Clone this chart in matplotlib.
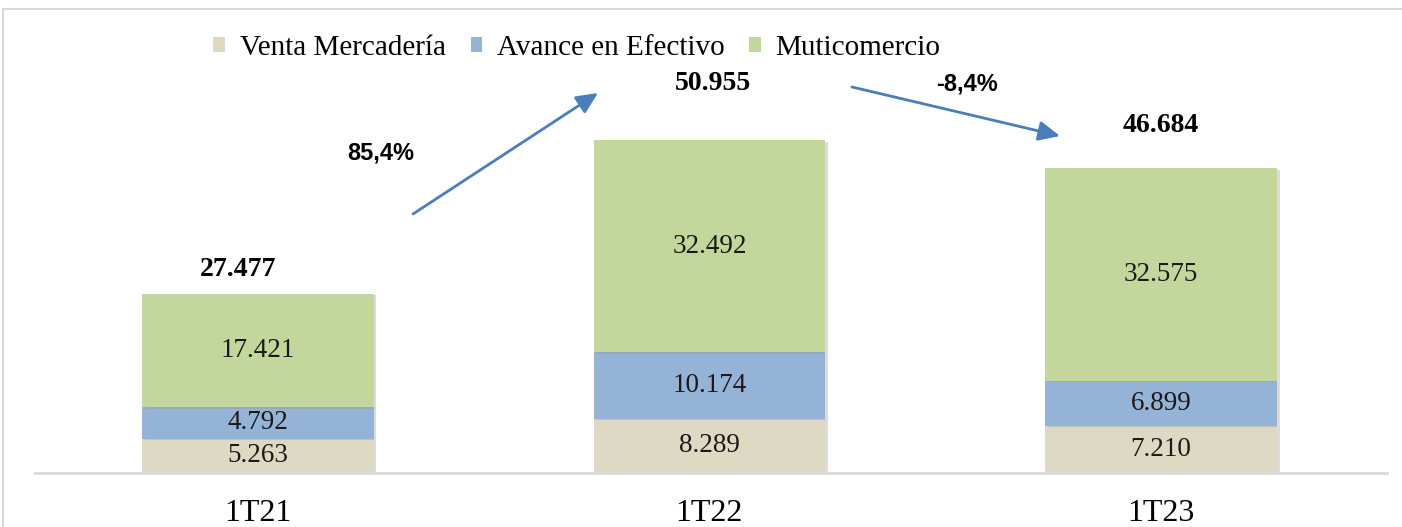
import numpy as np
import matplotlib
matplotlib.use('Agg')
import matplotlib.pyplot as plt
import matplotlib.patheffects as pe
from matplotlib.patches import Rectangle

# datos
periodos = ['1T21', '1T22', '1T23']
venta_mercaderia = [5263, 8289, 7210]
avance_efectivo = [4792, 10174, 6899]
multicomercio = [17421, 32492, 32575]
totales = [27477, 50955, 46684]
series = ['Venta Mercadería', 'Avance en Efectivo', 'Muticomercio']
colores = ['#DDD9C3', '#95B3D7', '#C3D69B']

def fmt(v):
    return f'{v:,}'.replace(',', '.')

fig = plt.figure(figsize=(14.02, 5.27), dpi=100)
ax = fig.add_axes([35/1402, 54/527, (1387-35)/1402, (517-54)/527])

x = np.arange(len(periodos))
capas = [venta_mercaderia, avance_efectivo, multicomercio]
base = np.zeros(len(periodos))
sombra = [pe.SimplePatchShadow(offset=(2, -1), shadow_rgbFace='#999999', alpha=0.35), pe.Normal()]
for nombre, vals, col in zip(series, capas, colores):
    barras = ax.bar(x, vals, width=0.513, bottom=base, color=col, label=nombre, zorder=2)
    for b in barras:
        b.set_path_effects(sombra)
    for xi, b0, v in zip(x, base, vals):
        ax.text(xi, b0 + v / 2, fmt(v), ha='center', va='center',
                family='Liberation Serif', fontsize=19.5, color='#1a1a1a', zorder=3)
    base = base + np.array(vals)

desplaz = [(-20, 24), (4, 57), (0, 43)]  # px respecto a la barra
for xi, t, top, (dx, dy) in zip(x, totales, base, desplaz):
    ax.annotate(fmt(t), (xi, top), xytext=(dx * 0.72, dy * 0.72), textcoords='offset points',
                ha='center', va='center', family='Liberation Serif',
                fontsize=20, fontweight='bold')

ax.set_xlim(-0.493, 2.5)
ax.set_ylim(0, 70900)
ax.set_yticks([])
ax.set_xticks(x)
ax.set_xticklabels(periodos, family='Liberation Serif', fontsize=23)
ax.tick_params(axis='x', length=0, pad=19)
for s in ['top', 'left', 'right']:
    ax.spines[s].set_visible(False)
ax.spines['bottom'].set_color('#D9D9D9')
ax.spines['bottom'].set_linewidth(2)

# variaciones
var = [totales[i + 1] / totales[i] - 1 for i in range(len(totales) - 1)]
flechas = [((413, 214), (598, 93), (381, 153)), ((852, 87), (1060, 136), (967, 84))]
for v, (p0, p1, pt) in zip(var, flechas):
    ax.annotate('', xy=(p1[0], 527 - p1[1]), xytext=(p0[0], 527 - p0[1]),
                xycoords='figure pixels', textcoords='figure pixels',
                arrowprops=dict(arrowstyle='-|>,head_length=1.3,head_width=0.6',
                                color='#4A7EBB', lw=2, shrinkA=0, shrinkB=0))
    txt = f'{v * 100:.1f}%'.replace('.', ',')
    fig.text(pt[0] / 1402, 1 - pt[1] / 527, txt, ha='center', va='center',
             family='Liberation Sans', fontsize=17, fontweight='bold')

leg = fig.legend(loc='center', bbox_to_anchor=(577 / 1402, 1 - 48 / 527), ncol=3,
                 frameon=False, prop={'family': 'Liberation Serif', 'size': 21},
                 handlelength=0.4, handleheight=0.4, handletextpad=0.5, columnspacing=0.85)
for h in leg.legend_handles:
    h.set_path_effects([])

fig.patches.append(Rectangle((3 / 1402, -0.1), 1.2, 1.1 - 9 / 527, transform=fig.transFigure,
                             fill=False, edgecolor='#D9D9D9', lw=1.5, zorder=0))

fig.savefig('out.png', dpi=100)
